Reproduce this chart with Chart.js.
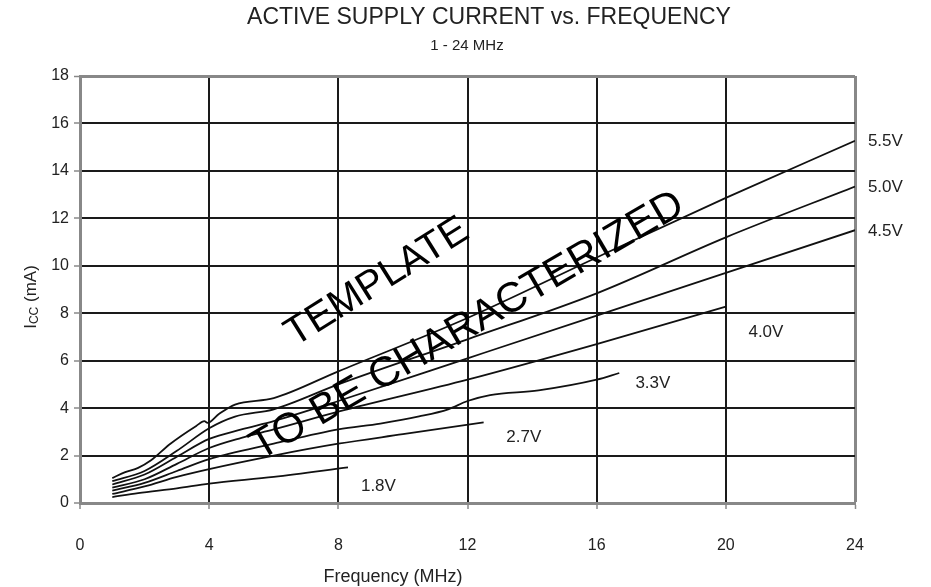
<!DOCTYPE html>
<html>
<head>
<meta charset="utf-8">
<script src="https://cdn.jsdelivr.net/npm/chart.js@4.4.1/dist/chart.umd.min.js"></script>
<style>
html, body { margin: 0; background: #fff; }
#wrap { width: 931px; height: 587px; }
</style>
</head>
<body>
<div id="wrap"><canvas id="c" width="931" height="587"></canvas></div>
<script>
// axis ticks
const xTicks = [0, 4, 8, 12, 16, 20, 24];
const yTicks = [0, 2, 4, 6, 8, 10, 12, 14, 16, 18];

// supply voltages (one curve each)
const voltages = ['5.5V', '5.0V', '4.5V', '4.0V', '3.3V', '2.7V', '1.8V'];

// frequency (MHz) / Icc (mA)
const f55 = [1, 1.4, 1.8, 2.2, 2.8, 3.6, 3.85, 3.95, 4.3, 4.8, 6, 8, 12, 16, 20, 24];
const i55 = [1.05, 1.3, 1.48, 1.8, 2.5, 3.25, 3.45, 3.38, 3.75, 4.15, 4.42, 5.55, 7.8, 10.35, 12.86, 15.27];
const f50 = [1, 2, 3, 4, 4.8, 6, 8, 12, 16, 20, 24];
const i50 = [0.92, 1.35, 2.2, 3.15, 3.64, 3.95, 5.0, 6.9, 8.84, 11.2, 13.34];
const f45 = [1, 2, 3, 4, 5, 6, 8, 12, 16, 20, 24];
const i45 = [0.78, 1.2, 1.95, 2.7, 3.1, 3.45, 4.3, 6.1, 7.9, 9.7, 11.5];
const f40 = [1, 2, 3, 4, 5, 6, 8, 12, 16, 20];
const i40 = [0.65, 1.0, 1.65, 2.32, 2.75, 3.1, 3.85, 5.2, 6.7, 8.28];
const f33 = [1, 2, 3, 4, 6, 8, 9.3, 10.5, 11.4, 12, 12.7, 14.2, 16, 16.7];
const i33 = [0.52, 0.85, 1.35, 1.85, 2.5, 3.1, 3.35, 3.65, 3.95, 4.3, 4.55, 4.75, 5.2, 5.48];
const f27 = [1, 2, 3, 4, 6, 8, 10, 12.5];
const i27 = [0.38, 0.7, 1.1, 1.43, 2.0, 2.5, 2.9, 3.4];
const f18 = [1, 1.8, 3, 4, 6, 8.3];
const i18 = [0.25, 0.42, 0.62, 0.82, 1.1, 1.5];

const freqs = [f55, f50, f45, f40, f33, f27, f18];
const iccs = [i55, i50, i45, i40, i33, i27, i18];

// where each voltage label sits (MHz, mA), left edge / middle
const labelX = [24.4, 24.4, 24.4, 20.7, 17.2, 13.2, 8.7];
const labelY = [15.26, 13.32, 11.47, 7.21, 5.06, 2.78, 0.72];

const FONT = '"Liberation Sans", Arial, sans-serif';

const datasets = voltages.map((v, k) => ({
  label: v,
  data: freqs[k].map((f, j) => ({ x: f, y: iccs[k][j] })),
  borderColor: '#111',
  borderWidth: 1.8,
  pointRadius: 0,
  fill: false,
  cubicInterpolationMode: 'monotone'
}));

const textPlugin = {
  id: 'texts',
  afterDraw(chart) {
    const ctx = chart.ctx;
    const xs = chart.scales.x, ys = chart.scales.y;
    ctx.save();
    ctx.fillStyle = '#222';
    ctx.textAlign = 'center';
    ctx.textBaseline = 'middle';
    ctx.font = '23px ' + FONT;
    ctx.fillText('ACTIVE SUPPLY CURRENT vs. FREQUENCY', 489, 18);
    ctx.font = '15px ' + FONT;
    ctx.fillText('1 - 24 MHz', 467, 46);
    ctx.font = '18px ' + FONT;
    ctx.fillText('Frequency (MHz)', 393, 577);

    // y axis title with subscript
    ctx.translate(31, 297);
    ctx.rotate(-Math.PI / 2);
    ctx.textAlign = 'left';
    ctx.font = '17px ' + FONT;
    const w1 = ctx.measureText('I').width;
    ctx.font = '12px ' + FONT;
    const w2 = ctx.measureText('CC').width;
    ctx.font = '17px ' + FONT;
    const w3 = ctx.measureText(' (mA)').width;
    let px = -(w1 + w2 + w3) / 2;
    ctx.fillText('I', px, 0);
    px += w1;
    ctx.font = '12px ' + FONT;
    ctx.fillText('CC', px, 4);
    px += w2;
    ctx.font = '17px ' + FONT;
    ctx.fillText(' (mA)', px, 0);
    ctx.restore();

    // voltage labels
    ctx.save();
    ctx.fillStyle = '#222';
    ctx.font = '17px ' + FONT;
    ctx.textAlign = 'left';
    ctx.textBaseline = 'middle';
    voltages.forEach((v, k) => {
      ctx.fillText(v, xs.getPixelForValue(labelX[k]), ys.getPixelForValue(labelY[k]));
    });
    ctx.restore();

    // watermark
    ctx.save();
    ctx.fillStyle = '#000';
    ctx.font = '40px ' + FONT;
    ctx.textAlign = 'center';
    ctx.textBaseline = 'middle';
    ctx.translate(xs.getPixelForValue(9.2), ys.getPixelForValue(9.3));
    ctx.rotate(-32 * Math.PI / 180);
    ctx.fillText('TEMPLATE', 0, 0);
    ctx.restore();
    ctx.save();
    ctx.fillStyle = '#000';
    ctx.font = '42px ' + FONT;
    ctx.textAlign = 'center';
    ctx.textBaseline = 'middle';
    ctx.translate(xs.getPixelForValue(12.0), ys.getPixelForValue(7.45));
    ctx.rotate(-30.3 * Math.PI / 180);
    ctx.fillText('TO BE CHARACTERIZED', 0, 0);
    ctx.restore();
  }
};

const edgeX = (c) => (c.tick && (c.tick.value === 24) ? '#888' : '#1a1a1a');
const edgeY = (c) => (c.tick && (c.tick.value === 18) ? '#888' : '#1a1a1a');
const edgeWX = (c) => (c.tick && c.tick.value === 24 ? 3 : 2);
const edgeWY = (c) => (c.tick && c.tick.value === 18 ? 3 : 2);

new Chart(document.getElementById('c'), {
  type: 'line',
  data: { datasets: datasets },
  options: {
    responsive: false,
    devicePixelRatio: 1,
    animation: false,
    layout: { padding: { left: 0, right: 76, top: 76, bottom: 0 } },
    plugins: { legend: { display: false }, tooltip: { enabled: false } },
    scales: {
      x: {
        type: 'linear',
        min: 0, max: 24,
        afterBuildTicks: (s) => { s.ticks = xTicks.map(v => ({ value: v })); },
        afterFit: (s) => { s.height = 84; },
        ticks: { color: '#222', font: { family: FONT, size: 16 }, padding: 27, maxRotation: 0 },
        grid: { color: edgeX, lineWidth: edgeWX, tickColor: '#888', tickLength: 6, tickWidth: 1.5 },
        border: { color: '#888', width: 3 }
      },
      y: {
        type: 'linear',
        min: 0, max: 18,
        afterBuildTicks: (s) => { s.ticks = yTicks.map(v => ({ value: v })); },
        afterFit: (s) => { s.width = 80; },
        ticks: { color: '#222', font: { family: FONT, size: 16 }, padding: 5 },
        grid: { color: edgeY, lineWidth: edgeWY, tickColor: '#888', tickLength: 6, tickWidth: 1.5 },
        border: { color: '#888', width: 3 }
      }
    }
  },
  plugins: [textPlugin]
});
</script>
</body>
</html>
